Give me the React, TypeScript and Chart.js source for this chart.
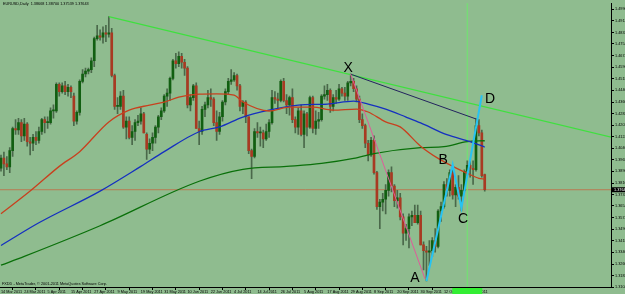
import React, { useEffect, useRef } from 'react';
import { Chart, registerables } from 'chart.js';
Chart.register(...registerables);

const SYMBOL = 'EURUSD,Daily';
const FOOTER = 'FXDD - MetaTrader, \u00A9 2001-2011 MetaQuotes Software Corp.';

const dateTickBars = [0, 8, 16, 24, 32, 40, 48, 56, 64, 72, 80, 88, 96, 104, 112, 120, 128, 136, 144, 152, 160];
const dateLabels = ['14 Mar 2011', '24 Mar 2011', '5 Apr 2011', '15 Apr 2011', '27 Apr 2011', '9 May 2011', '19 May 2011', '31 May 2011', '10 Jun 2011', '22 Jun 2011', '4 Jul 2011', '14 Jul 2011', '26 Jul 2011', '5 Aug 2011', '17 Aug 2011', '29 Aug 2011', '8 Sep 2011', '20 Sep 2011', '30 Sep 2011', '12 Oct 2011', '24 Oct 2011'];

const priceTicks = [1.499, 1.4912, 1.4832, 1.4754, 1.4674, 1.4596, 1.4518, 1.444, 1.436, 1.4282, 1.4203, 1.4124, 1.4046, 1.3968, 1.389, 1.381, 1.3732, 1.3654, 1.3574, 1.3496, 1.3418, 1.334, 1.326, 1.3182, 1.3104];

const opens = [
  1.3910, 1.3980, 1.3940, 1.3920, 1.4030, 1.4180, 1.4170, 1.4220, 1.4130, 1.4210,
  1.4090, 1.4080, 1.4120, 1.4100, 1.4160, 1.4240, 1.4220, 1.4220, 1.4300, 1.4300,
  1.4480, 1.4430, 1.4470, 1.4430, 1.4460, 1.4400, 1.4230, 1.4290, 1.4500, 1.4550,
  1.4570, 1.4580, 1.4640, 1.4790, 1.4810, 1.4800, 1.4830, 1.4820, 1.4830, 1.4540,
  1.4330, 1.4330, 1.4400, 1.4190, 1.4230, 1.4120, 1.4160, 1.4220, 1.4230, 1.4280,
  1.4140, 1.4040, 1.4080, 1.4120, 1.4190, 1.4260, 1.4300, 1.4400, 1.4420, 1.4520,
  1.4640, 1.4620, 1.4670, 1.4630, 1.4590, 1.4340, 1.4390, 1.4470, 1.4180, 1.4160,
  1.4310, 1.4340, 1.4390, 1.4380, 1.4220, 1.4160, 1.4260, 1.4360, 1.4430, 1.4500,
  1.4510, 1.4540, 1.4470, 1.4330, 1.4360, 1.4260, 1.4030, 1.3990, 1.4160, 1.4150,
  1.4150, 1.4110, 1.4160, 1.4220, 1.4390, 1.4380, 1.4370, 1.4500, 1.4370, 1.4340,
  1.4390, 1.4240, 1.4190, 1.4300, 1.4140, 1.4280, 1.4190, 1.4390, 1.4180, 1.4230,
  1.4240, 1.4400, 1.4410, 1.4440, 1.4330, 1.4390, 1.4380, 1.4450, 1.4420, 1.4400,
  1.4490, 1.4500, 1.4450, 1.4380, 1.4240, 1.4200, 1.4080, 1.4000, 1.4100, 1.3880,
  1.3650, 1.3680, 1.3700, 1.3760, 1.3880, 1.3790, 1.3690, 1.3710, 1.3580, 1.3470,
  1.3500, 1.3580, 1.3590, 1.3540, 1.3590, 1.3390, 1.3350, 1.3340, 1.3350, 1.3420,
  1.3380, 1.3620, 1.3650, 1.3800, 1.3760, 1.3880, 1.3730, 1.3780, 1.3720, 1.3760,
  1.3890, 1.3930, 1.3910, 1.3900, 1.4200, 1.4150, 1.38668,
];
const highs = [
  1.4000, 1.4020, 1.3990, 1.4050, 1.4190, 1.4240, 1.4250, 1.4240, 1.4250, 1.4220,
  1.4120, 1.4140, 1.4160, 1.4190, 1.4250, 1.4260, 1.4260, 1.4320, 1.4340, 1.4490,
  1.4490, 1.4490, 1.4500, 1.4480, 1.4470, 1.4420, 1.4300, 1.4510, 1.4580, 1.4590,
  1.4590, 1.4660, 1.4800, 1.4880, 1.4850, 1.4870, 1.4880, 1.4940, 1.4860, 1.4550,
  1.4390, 1.4430, 1.4440, 1.4260, 1.4260, 1.4200, 1.4240, 1.4270, 1.4320, 1.4290,
  1.4150, 1.4110, 1.4150, 1.4200, 1.4270, 1.4320, 1.4410, 1.4450, 1.4530, 1.4650,
  1.4690, 1.4700, 1.4690, 1.4650, 1.4600, 1.4410, 1.4480, 1.4490, 1.4230, 1.4330,
  1.4360, 1.4440, 1.4450, 1.4390, 1.4300, 1.4290, 1.4370, 1.4450, 1.4520, 1.4580,
  1.4560, 1.4550, 1.4480, 1.4370, 1.4370, 1.4260, 1.4040, 1.4180, 1.4220, 1.4190,
  1.4170, 1.4210, 1.4240, 1.4440, 1.4430, 1.4420, 1.4510, 1.4520, 1.4410, 1.4400,
  1.4450, 1.4260, 1.4320, 1.4340, 1.4300, 1.4290, 1.4400, 1.4400, 1.4300, 1.4290,
  1.4410, 1.4470, 1.4480, 1.4450, 1.4410, 1.4440, 1.4480, 1.4460, 1.4460, 1.4500,
  1.4549, 1.4520, 1.4470, 1.4400, 1.4280, 1.4210, 1.4100, 1.4120, 1.4130, 1.3890,
  1.3700, 1.3740, 1.3800, 1.3900, 1.3920, 1.3800, 1.3760, 1.3740, 1.3600, 1.3530,
  1.3600, 1.3620, 1.3660, 1.3660, 1.3620, 1.3410, 1.3380, 1.3420, 1.3440, 1.3500,
  1.3630, 1.3680, 1.3820, 1.3840, 1.3900, 1.3900, 1.3800, 1.3860, 1.3800, 1.3900,
  1.3960, 1.3960, 1.3960, 1.4247, 1.4240, 1.4170, 1.38700,
];
const lows = [
  1.3890, 1.3860, 1.3900, 1.3880, 1.3990, 1.4140, 1.4140, 1.4090, 1.4100, 1.4060,
  1.4000, 1.4030, 1.4070, 1.4080, 1.4140, 1.4150, 1.4180, 1.4210, 1.4250, 1.4290,
  1.4400, 1.4420, 1.4410, 1.4400, 1.4390, 1.4200, 1.4210, 1.4270, 1.4490, 1.4530,
  1.4550, 1.4560, 1.4600, 1.4780, 1.4780, 1.4760, 1.4770, 1.4800, 1.4530, 1.4310,
  1.4280, 1.4310, 1.4180, 1.4110, 1.4110, 1.4070, 1.4100, 1.4200, 1.4210, 1.4150,
  1.3970, 1.4010, 1.4030, 1.4080, 1.4150, 1.4240, 1.4290, 1.4330, 1.4370, 1.4510,
  1.4590, 1.4600, 1.4590, 1.4540, 1.4320, 1.4300, 1.4370, 1.4180, 1.4070, 1.4140,
  1.4260, 1.4320, 1.4330, 1.4200, 1.4100, 1.4140, 1.4230, 1.4340, 1.4410, 1.4480,
  1.4500, 1.4440, 1.4300, 1.4280, 1.4220, 1.4010, 1.3840, 1.3980, 1.4120, 1.4060,
  1.4050, 1.4100, 1.4120, 1.4210, 1.4350, 1.4320, 1.4360, 1.4360, 1.4280, 1.4270,
  1.4220, 1.4150, 1.4140, 1.4130, 1.4050, 1.4130, 1.4180, 1.4150, 1.4140, 1.4180,
  1.4230, 1.4380, 1.4370, 1.4290, 1.4300, 1.4350, 1.4370, 1.4400, 1.4370, 1.4370,
  1.4470, 1.4430, 1.4360, 1.4220, 1.4180, 1.4050, 1.3960, 1.3990, 1.3870, 1.3630,
  1.3500, 1.3620, 1.3600, 1.3720, 1.3750, 1.3650, 1.3640, 1.3560, 1.3390, 1.3420,
  1.3370, 1.3520, 1.3540, 1.3530, 1.3390, 1.3220, 1.3145, 1.3250, 1.3310, 1.3340,
  1.3370, 1.3550, 1.3640, 1.3720, 1.3720, 1.3700, 1.3650, 1.3700, 1.3620, 1.3750,
  1.3860, 1.3850, 1.3800, 1.3890, 1.4130, 1.3850, 1.37539,
];
const closes = [
  1.3980, 1.3940, 1.3920, 1.4030, 1.4180, 1.4170, 1.4220, 1.4130, 1.4210, 1.4090,
  1.4080, 1.4120, 1.4100, 1.4160, 1.4240, 1.4220, 1.4220, 1.4300, 1.4300, 1.4480,
  1.4430, 1.4470, 1.4430, 1.4460, 1.4430, 1.4230, 1.4290, 1.4500, 1.4550, 1.4570,
  1.4580, 1.4640, 1.4790, 1.4810, 1.4800, 1.4830, 1.4820, 1.4830, 1.4540, 1.4330,
  1.4330, 1.4400, 1.4190, 1.4230, 1.4120, 1.4160, 1.4220, 1.4230, 1.4280, 1.4150,
  1.4040, 1.4080, 1.4120, 1.4190, 1.4260, 1.4300, 1.4400, 1.4420, 1.4520, 1.4640,
  1.4620, 1.4670, 1.4630, 1.4590, 1.4340, 1.4390, 1.4470, 1.4180, 1.4160, 1.4310,
  1.4340, 1.4390, 1.4380, 1.4220, 1.4160, 1.4260, 1.4360, 1.4430, 1.4500, 1.4510,
  1.4540, 1.4470, 1.4330, 1.4360, 1.4260, 1.4030, 1.3990, 1.4160, 1.4150, 1.4150,
  1.4110, 1.4160, 1.4220, 1.4390, 1.4380, 1.4370, 1.4500, 1.4370, 1.4340, 1.4390,
  1.4240, 1.4190, 1.4300, 1.4140, 1.4280, 1.4190, 1.4390, 1.4180, 1.4230, 1.4240,
  1.4400, 1.4410, 1.4440, 1.4330, 1.4390, 1.4380, 1.4450, 1.4420, 1.4400, 1.4490,
  1.4500, 1.4450, 1.4380, 1.4240, 1.4200, 1.4080, 1.4000, 1.4100, 1.3880, 1.3650,
  1.3680, 1.3700, 1.3760, 1.3880, 1.3790, 1.3690, 1.3710, 1.3580, 1.3470, 1.3500,
  1.3580, 1.3590, 1.3540, 1.3590, 1.3390, 1.3350, 1.3340, 1.3350, 1.3420, 1.3380,
  1.3620, 1.3650, 1.3800, 1.3760, 1.3880, 1.3730, 1.3780, 1.3720, 1.3760, 1.3890,
  1.3930, 1.3910, 1.3900, 1.4200, 1.4150, 1.3860, 1.37643,
];

// moving averages
const maRedBars = [0, 10, 20, 27, 37, 44, 51, 56, 61, 68, 74, 80, 83, 92, 99, 107, 114, 122, 126, 132, 137, 144, 150, 155, 160, 164, 166];
const maRedVals = [1.3601, 1.3755, 1.3923, 1.4023, 1.4225, 1.4305, 1.4339, 1.4359, 1.4393, 1.4413, 1.4415, 1.4406, 1.4360, 1.4299, 1.4325, 1.4325, 1.4305, 1.4312, 1.4292, 1.4225, 1.4191, 1.4060, 1.3977, 1.3923, 1.3876, 1.3842, 1.3836];
const maBlueBars = [0, 13, 34, 48, 56, 68, 75, 83, 92, 102, 112, 121, 126, 132, 139, 144, 153, 161, 166];
const maBlueVals = [1.3386, 1.3540, 1.3755, 1.3923, 1.4023, 1.4158, 1.4191, 1.4258, 1.4305, 1.4339, 1.4346, 1.4366, 1.4346, 1.4312, 1.4258, 1.4218, 1.4138, 1.4091, 1.4054];
const maGreenBars = [0, 8, 34, 68, 83, 98, 110, 121, 128, 144, 152, 160, 166];
const maGreenVals = [1.3252, 1.3312, 1.3520, 1.3822, 1.3903, 1.3923, 1.3943, 1.3977, 1.4010, 1.4050, 1.4057, 1.4091, 1.4097];

// drawn objects
const trendBars = [37, 209.5];
const trendVals = [1.4940, 1.4121];
const xdBars = [120, 163];
const xdVals = [1.4549, 1.4245];
const pinkBars = [120, 145.5];
const pinkVals = [1.4549, 1.3160];
const abcdBars = [146, 155, 158, 165];
const abcdVals = [1.3145, 1.3935, 1.3641, 1.4406];
const patternLabels = ['X', 'A', 'B', 'C', 'D'];
const patternLabelBars = [119.1, 142.0, 151.7, 158.6, 167.8];
const patternLabelVals = [1.4587, 1.3165, 1.3962, 1.3567, 1.4379];
const vlineBar = 160;

const BG = '#8FBC8F';
const FONT = "'Liberation Sans', Arial, sans-serif";
const X_MIN = -0.343;
const X_MAX = 209.33;
const Y_MIN = 1.3104;
const Y_MAX = 1.50303;

const pts = (xs: number[], ys: number[]) => xs.map((x, i) => ({ x, y: ys[i] }));

export default function App() {
  const ref = useRef<HTMLCanvasElement>(null);
  useEffect(() => {
    const canvas = ref.current!;
    const N = closes.length;
    const lastClose = closes[N - 1];
    const bodyColors = opens.map((o, i) => (closes[i] >= o ? '#115f11' : '#a83a22'));

    const bgPlugin = {
      id: 'bg',
      beforeDraw(chart: any) {
        const { ctx, width, height } = chart;
        ctx.save();
        ctx.fillStyle = BG;
        ctx.fillRect(0, 0, width, height);
        ctx.restore();
      },
    };
    const textPlugin = {
      id: 'texts',
      afterDraw(chart: any) {
        const { ctx } = chart;
        const xs = chart.scales.x;
        const ys = chart.scales.y;
        ctx.save();
        ctx.fillStyle = '#000';
        ctx.font = `3.8px ${FONT}`;
        ctx.textBaseline = 'middle';
        ctx.textAlign = 'left';
        const head = `${SYMBOL}  ${opens[N - 1].toFixed(5)} ${highs[N - 1].toFixed(5)} ${lows[N - 1].toFixed(5)} ${closes[N - 1].toFixed(5)}`;
        ctx.fillText(head, 3, 4);
        ctx.fillText(FOOTER, 2, 284);
        ctx.font = `14px ${FONT}`;
        ctx.textAlign = 'center';
        patternLabels.forEach((t, i) => {
          ctx.fillText(t, xs.getPixelForValue(patternLabelBars[i]), ys.getPixelForValue(patternLabelVals[i]));
        });
        const py = ys.getPixelForValue(lastClose);
        ctx.fillStyle = '#000';
        ctx.fillRect(612, py - 2.5, 14, 5);
        ctx.fillStyle = '#fff';
        ctx.font = `3.8px ${FONT}`;
        ctx.textAlign = 'left';
        ctx.fillText(lastClose.toFixed(5), 614, py);
        const vx = xs.getPixelForValue(vlineBar);
        ctx.fillStyle = '#33ee33';
        ctx.fillRect(vx - 15, 288, 30, 6);
        ctx.restore();
      },
    };

    const chart = new Chart(canvas, {
      type: 'bar',
      data: {
        datasets: [
          { type: 'line', data: pts(abcdBars, abcdVals), borderColor: '#27c3f2', borderWidth: 2, pointRadius: 0 },
          { type: 'line', data: pts(pinkBars, pinkVals), borderColor: '#e05a9a', borderWidth: 1, pointRadius: 0 },
          { type: 'line', data: pts(xdBars, xdVals), borderColor: '#23235e', borderWidth: 1, pointRadius: 0 },
          { type: 'line', data: pts(trendBars, trendVals), borderColor: '#3fe03f', borderWidth: 1.2, pointRadius: 0 },
          { type: 'line', data: pts(maRedBars, maRedVals), borderColor: '#c8401e', borderWidth: 1.3, pointRadius: 0, cubicInterpolationMode: 'monotone' },
          { type: 'line', data: pts(maBlueBars, maBlueVals), borderColor: '#1530c0', borderWidth: 1.3, pointRadius: 0, cubicInterpolationMode: 'monotone' },
          { type: 'line', data: pts(maGreenBars, maGreenVals), borderColor: '#0a700a', borderWidth: 1.3, pointRadius: 0, cubicInterpolationMode: 'monotone' },
          {
            type: 'bar',
            data: opens.map((o, i) => ({ x: i, y: [o, closes[i]] })),
            backgroundColor: bodyColors,
            borderWidth: 0,
            barThickness: 2,
            grouped: false,
            minBarLength: 1,
          },
          {
            type: 'bar',
            data: lows.map((l, i) => ({ x: i, y: [l, highs[i]] })),
            backgroundColor: '#4a684a',
            borderWidth: 0,
            barThickness: 1,
            grouped: false,
          },
          { type: 'line', data: [{ x: vlineBar, y: 1.2 }, { x: vlineBar, y: 1.6 }], borderColor: '#6fe86f', borderWidth: 1, pointRadius: 0 },
          { type: 'line', data: [{ x: X_MIN - 5, y: lastClose }, { x: X_MAX + 5, y: lastClose }], borderColor: '#b97a52', borderWidth: 1, pointRadius: 0 },
        ] as any,
      },
      options: {
        responsive: false,
        animation: false,
        devicePixelRatio: 1,
        layout: { padding: 0 },
        plugins: { legend: { display: false }, tooltip: { enabled: false } },
        events: [],
        scales: {
          x: {
            type: 'linear',
            min: X_MIN,
            max: X_MAX,
            offset: false,
            position: 'bottom',
            grid: { drawOnChartArea: false, drawTicks: true, tickLength: 3, color: '#000' },
            border: { display: true, color: '#000', width: 1 },
            ticks: {
              autoSkip: false,
              maxRotation: 0,
              minRotation: 0,
              align: 'start',
              padding: 0,
              color: '#000',
              font: { size: 3.8, family: FONT },
              callback: (v: any) => {
                const k = dateTickBars.indexOf(v);
                return k >= 0 ? dateLabels[k] : '';
              },
            },
            afterBuildTicks: (s: any) => {
              s.ticks = dateTickBars.map((v) => ({ value: v }));
            },
            afterFit: (s: any) => {
              s.height = 7;
            },
          },
          y: {
            type: 'linear',
            position: 'right',
            min: Y_MIN,
            max: Y_MAX,
            grid: { drawOnChartArea: false, drawTicks: true, tickLength: 3, color: '#000' },
            border: { display: true, color: '#000', width: 1 },
            ticks: {
              padding: 1,
              color: '#000',
              font: { size: 3.8, family: FONT },
              callback: (v: any) => Number(v).toFixed(5),
            },
            afterBuildTicks: (s: any) => {
              s.ticks = priceTicks.map((v) => ({ value: v }));
            },
            afterFit: (s: any) => {
              s.width = 14;
            },
          },
        },
      } as any,
      plugins: [bgPlugin, textPlugin],
    });
    return () => chart.destroy();
  }, []);
  return (
    <div style={{ position: 'fixed', left: 0, top: 0, width: 625, height: 294, background: BG }}>
      <canvas ref={ref} width={625} height={294} style={{ display: 'block', width: 625, height: 294 }} />
    </div>
  );
}
